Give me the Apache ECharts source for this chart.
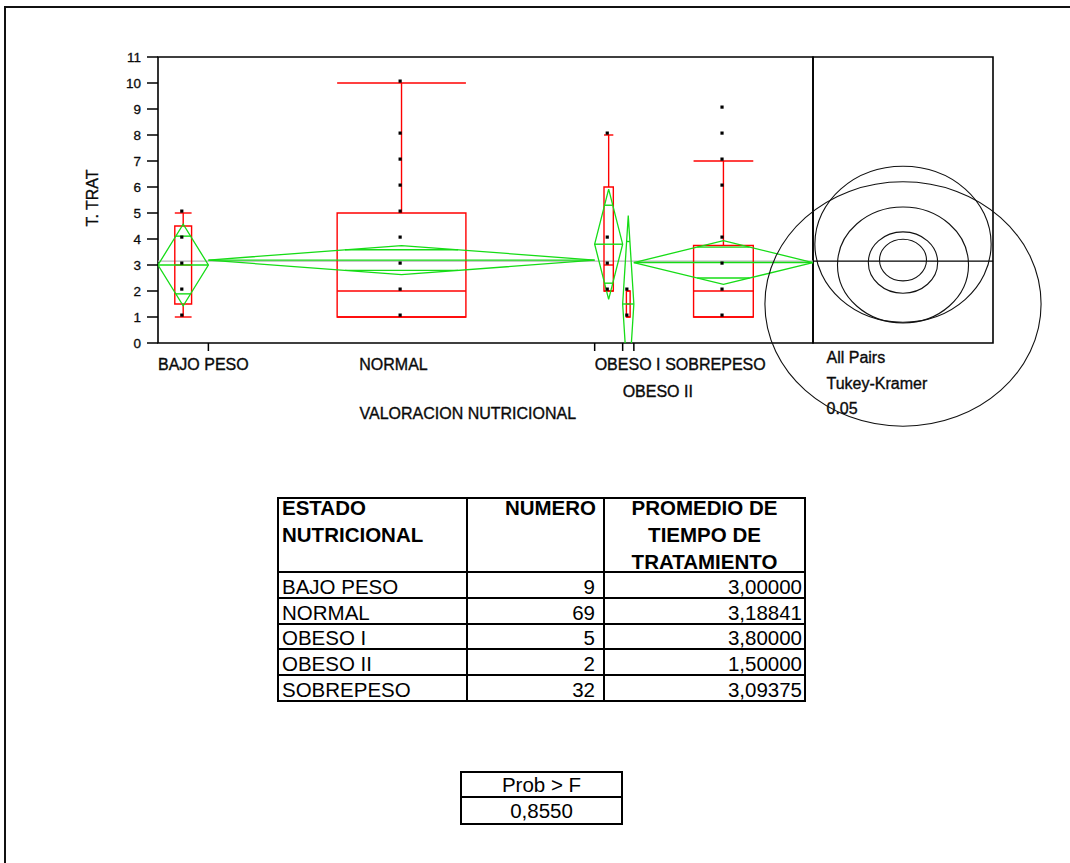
<!DOCTYPE html>
<html>
<head>
<meta charset="utf-8">
<title>T. TRAT por VALORACION NUTRICIONAL</title>
<script src="https://cdn.jsdelivr.net/npm/echarts@6/dist/echarts.min.js"></script>
<style>
  html, body { margin: 0; padding: 0; background: #fff; overflow: hidden; border: 0; }
  #page { position: absolute; left: 0; top: 0; width: 1070px; height: 863px; overflow: hidden; background: #fff; }
  #chart { position: absolute; left: 0; top: 0; width: 1070px; height: 863px; }
  .frame-top { position: absolute; left: 4px; top: 6px; width: 1066px; height: 2px; background: #111; }
  .frame-left { position: absolute; left: 4px; top: 6px; width: 2px; height: 857px; background: #111; }
  .cell {
    position: absolute; box-sizing: border-box; border: 2px solid #000;
    font-family: 'Liberation Sans', Arial, sans-serif; font-size: 20.5px; color: #000;
    display: flex; white-space: nowrap; overflow: hidden;
  }
  .cell .txt { width: 100%; }
</style>
</head>
<body>
<div id="page">
  <div id="chart"></div>
  <div class="frame-top"></div>
  <div class="frame-left"></div>
  <div id="tables"></div>
</div>
<script>
// Groups of the nutritional assessment and their statistics
const groups = ['BAJO PESO', 'NORMAL', 'OBESO I', 'OBESO II', 'SOBREPESO'];
const counts = [9, 69, 5, 2, 32];
const means = [3.00000, 3.18841, 3.80000, 1.50000, 3.09375];
// Box plot quantiles and whisker ends
const q1 = [1.5, 1, 2, 1, 1];
const medians = [3, 2, 3, 1.5, 2];
const q3 = [4.5, 5, 6, 2, 3.75];
const whiskerLow = [1, 1, 2, 1, 1];
const whiskerHigh = [5, 10, 8, 2, 7];
// Distinct observed values of T. TRAT in each group
const pointValues = [
  [1, 2, 3, 4, 5],
  [1, 2, 3, 4, 5, 6, 7, 8, 10],
  [2, 3, 4, 8],
  [1, 2],
  [1, 2, 3, 4, 6, 7, 8, 9]
];
// Half height of each means diamond (95% CI) and Tukey-Kramer circle radii
const diamondHalf = [1.57, 0.56, 2.12, 3.40, 0.84];
const circleRadius = [2.23, 0.80, 3.00, 4.70, 1.18];
// Which text row each category label sits on under the axis
const labelRow = [0, 0, 0, 1, 0];
// Y axis ticks
const yMin = 0, yMax = 11, yStep = 1;
// ANOVA result
const probF = 0.8550;
const compareLines = ['All Pairs', 'Tukey-Kramer', '0.05'];

const RED = '#ff0000';
const GREEN = '#16dc16';
const FONT = "'Liberation Sans', Arial, sans-serif";
const INK = '#0a0a0a';

// group positions along the proportional x axis
const starts = [];
counts.reduce((acc, n) => { starts.push(acc); return acc + n; }, 0);
const total = counts.reduce((a, b) => a + b, 0);
const grandMean = counts.reduce((s, n, i) => s + n * means[i], 0) / total;

const measureCtx = document.createElement('canvas').getContext('2d');
function textWidth(str, size) {
  measureCtx.font = size + 'px ' + FONT;
  return measureCtx.measureText(str).width;
}

function renderGroup(params, api) {
  const i = api.value(0);
  const x0 = starts[i], x1 = x0 + counts[i], xm = (x0 + x1) / 2;
  const P = (x, y) => api.coord([x, y]);
  const left = P(x0, means[i]), right = P(x1, means[i]);
  const top = P(xm, means[i] + diamondHalf[i]);
  const bot = P(xm, means[i] - diamondHalf[i]);
  const cx = top[0];
  const W = right[0] - left[0];
  const children = [];
  const line = (a, b, c, d, color) => ({
    type: 'line', shape: { x1: a, y1: b, x2: c, y2: d },
    style: { stroke: color, lineWidth: 1.4, fill: null }
  });

  // box plot
  const bw = W / 3, bl = cx - bw / 2;
  const yq1 = P(xm, q1[i])[1], yq3 = P(xm, q3[i])[1], ymed = P(xm, medians[i])[1];
  const ywl = P(xm, whiskerLow[i])[1], ywh = P(xm, whiskerHigh[i])[1];
  children.push({ type: 'rect', shape: { x: bl, y: yq3, width: bw, height: yq1 - yq3 },
    style: { fill: null, stroke: RED, lineWidth: 1.4 } });
  children.push(line(bl, ymed, bl + bw, ymed, RED));
  children.push(line(cx, yq3, cx, ywh, RED));
  children.push(line(cx, yq1, cx, ywl, RED));
  children.push(line(bl, ywh, bl + bw, ywh, RED));
  children.push(line(bl, ywl, bl + bw, ywl, RED));

  // means diamond with overlap marks
  children.push({ type: 'polygon', shape: { points: [left, top, right, bot] },
    style: { fill: null, stroke: GREEN, lineWidth: 1.3 } });
  children.push(line(left[0], left[1], right[0], right[1], GREEN));
  const k = Math.SQRT1_2;
  [1, -1].forEach(s => {
    const y = P(xm, means[i] + s * k * diamondHalf[i])[1];
    const hw = (1 - k) * W / 2;
    children.push(line(cx - hw, y, cx + hw, y, GREEN));
  });

  // observations
  pointValues[i].forEach(v => {
    const p = P(xm, v);
    children.push({ type: 'rect', shape: { x: p[0] - 3, y: p[1] - 3.5, width: 3.2, height: 3.2 },
      style: { fill: '#000' } });
  });
  return { type: 'group', children };
}

function renderCircle(params, api) {
  const i = api.value(0);
  const c = api.coord([0.5, means[i]]);
  const ry = c[1] - api.coord([0.5, means[i] + circleRadius[i]])[1];
  return { type: 'ellipse', shape: { cx: c[0], cy: c[1], rx: ry * 1.13, ry: ry },
    style: { fill: null, stroke: '#111', lineWidth: 1.1 } };
}

function renderTick(params, api) {
  const p = api.coord([api.value(0), yMin]);
  return { type: 'line', shape: { x1: p[0], y1: p[1], x2: p[0], y2: p[1] + 8 },
    style: { stroke: '#000', lineWidth: 1.5 } };
}

const labelStyle = (text) => ({ text, fontSize: 16, fontFamily: FONT, fill: INK,
  stroke: INK, lineWidth: 0.35, align: 'left', verticalAlign: 'middle' });

function renderLabel(params, api) {
  const i = api.value(0);
  const ps = api.coord([starts[i], yMin]);
  const pm = api.coord([starts[i] + counts[i] / 2, yMin]);
  const w = textWidth(groups[i], 16);
  const x = Math.max(ps[0], pm[0] - w / 2 - 8);
  return { type: 'text', x: x, y: ps[1] + 21.5 + labelRow[i] * 27, style: labelStyle(groups[i]) };
}

function renderMeanLine(color) {
  return function (params, api) {
    const a = api.coord([api.value(0), grandMean]);
    const b = api.coord([api.value(1), grandMean]);
    return { type: 'line', shape: { x1: a[0], y1: a[1], x2: b[0], y2: b[1] },
      style: { stroke: color, lineWidth: 1.2 } };
  };
}

const chart = echarts.init(document.getElementById('chart'), null, { renderer: 'svg' });
const idx = groups.map((g, i) => [i]);

chart.setOption({
  animation: false,
  backgroundColor: '#fff',
  grid: [
    { left: 158, top: 57, width: 655, height: 286, show: true, borderColor: '#000',
      borderWidth: 1.6, backgroundColor: 'transparent', outerBoundsMode: 'none', containLabel: false },
    { left: 813, top: 57, width: 180, height: 286, show: true, borderColor: '#000',
      borderWidth: 1.6, backgroundColor: 'transparent', outerBoundsMode: 'none', containLabel: false }
  ],
  xAxis: [
    { type: 'value', gridIndex: 0, min: 0, max: total, show: false },
    { type: 'value', gridIndex: 1, min: 0, max: 1, show: false }
  ],
  yAxis: [
    { type: 'value', gridIndex: 0, min: yMin, max: yMax, interval: yStep,
      axisLine: { show: false },
      axisTick: { show: true, length: 11, lineStyle: { color: '#000', width: 1.5 } },
      axisLabel: { margin: 17, fontSize: 13.5, fontFamily: FONT, color: INK,
        textBorderColor: INK, textBorderWidth: 0.3 },
      splitLine: { show: false } },
    { type: 'value', gridIndex: 1, min: yMin, max: yMax, show: false }
  ],
  series: [
    { type: 'custom', name: 'media global', xAxisIndex: 0, yAxisIndex: 0, clip: true,
      data: [[0, total]], renderItem: renderMeanLine('#b4b4b4'), z: 2, silent: true },
    { type: 'custom', name: 'T. TRAT', xAxisIndex: 0, yAxisIndex: 0, clip: true,
      data: idx, renderItem: renderGroup, z: 3, silent: true },
    { type: 'custom', name: 'ticks', xAxisIndex: 0, yAxisIndex: 0, clip: false,
      data: starts.slice(1).map(s => [s]), renderItem: renderTick, z: 3, silent: true },
    { type: 'custom', name: 'labels', xAxisIndex: 0, yAxisIndex: 0, clip: false,
      data: idx, renderItem: renderLabel, z: 3, silent: true },
    { type: 'custom', name: 'media global panel', xAxisIndex: 1, yAxisIndex: 1, clip: false,
      data: [[0, 1]], renderItem: renderMeanLine('#000'), z: 3, silent: true },
    { type: 'custom', name: 'Tukey-Kramer', xAxisIndex: 1, yAxisIndex: 1, clip: false,
      data: idx, renderItem: renderCircle, z: 4, silent: true }
  ],
  graphic: [
    { type: 'text', x: 92, y: 198, rotation: Math.PI / 2,
      style: Object.assign(labelStyle('T. TRAT'), { align: 'center' }) },
    { type: 'text', x: 359.5, y: 413, style: labelStyle('VALORACION NUTRICIONAL') }
  ].concat(compareLines.map((t, i) => ({
    type: 'text', x: 826.5, y: 357.5 + i * 25.5, style: labelStyle(t)
  })))
});

// Summary tables
const tables = document.getElementById('tables');
function cell(x0, y0, x1, y1, html, opts) {
  const d = document.createElement('div');
  d.className = 'cell';
  d.style.left = (x0 - 1) + 'px';
  d.style.top = (y0 - 1) + 'px';
  d.style.width = (x1 - x0 + 2) + 'px';
  d.style.height = (y1 - y0 + 2) + 'px';
  d.style.alignItems = opts.valign || 'center';
  const t = document.createElement('div');
  t.className = 'txt';
  t.style.textAlign = opts.align || 'left';
  t.style.paddingLeft = (opts.pl || 0) + 'px';
  t.style.paddingRight = (opts.pr || 0) + 'px';
  t.style.paddingTop = (opts.pt || 0) + 'px';
  if (opts.bold) t.style.fontWeight = 'bold';
  if (opts.lh) t.style.lineHeight = opts.lh + 'px';
  if (opts.mt) t.style.marginTop = opts.mt + 'px';
  t.innerHTML = html;
  d.appendChild(t);
  tables.appendChild(d);
}

const colX = [278, 467, 604, 805];
const rowY = [498, 572, 598, 624, 649, 675, 701];
const head = { bold: true, valign: 'flex-start', lh: 27, mt: -5 };
cell(colX[0], rowY[0], colX[1], rowY[1], 'ESTADO<br>NUTRICIONAL', Object.assign({ pl: 3 }, head));
cell(colX[1], rowY[0], colX[2], rowY[1], 'NUMERO', Object.assign({ align: 'right', pr: 7 }, head));
cell(colX[2], rowY[0], colX[3], rowY[1], 'PROMEDIO DE<br>TIEMPO DE<br>TRATAMIENTO', Object.assign({ align: 'center' }, head));
groups.forEach((g, i) => {
  const y0 = rowY[i + 1], y1 = rowY[i + 2];
  cell(colX[0], y0, colX[1], y1, g, { pl: 3, pt: 3 });
  cell(colX[1], y0, colX[2], y1, String(counts[i]), { align: 'right', pr: 8, pt: 3 });
  cell(colX[2], y0, colX[3], y1, means[i].toFixed(5).replace('.', ','), { align: 'right', pr: 2, pt: 3 });
});

const probX = [461, 622];
const probY = [772, 797, 824];
cell(probX[0], probY[0], probX[1], probY[1], 'Prob &gt; F', { align: 'center', pt: 1 });
cell(probX[0], probY[1], probX[1], probY[2], probF.toFixed(4).replace('.', ','), { align: 'center', pt: 1 });
</script>
</body>
</html>
